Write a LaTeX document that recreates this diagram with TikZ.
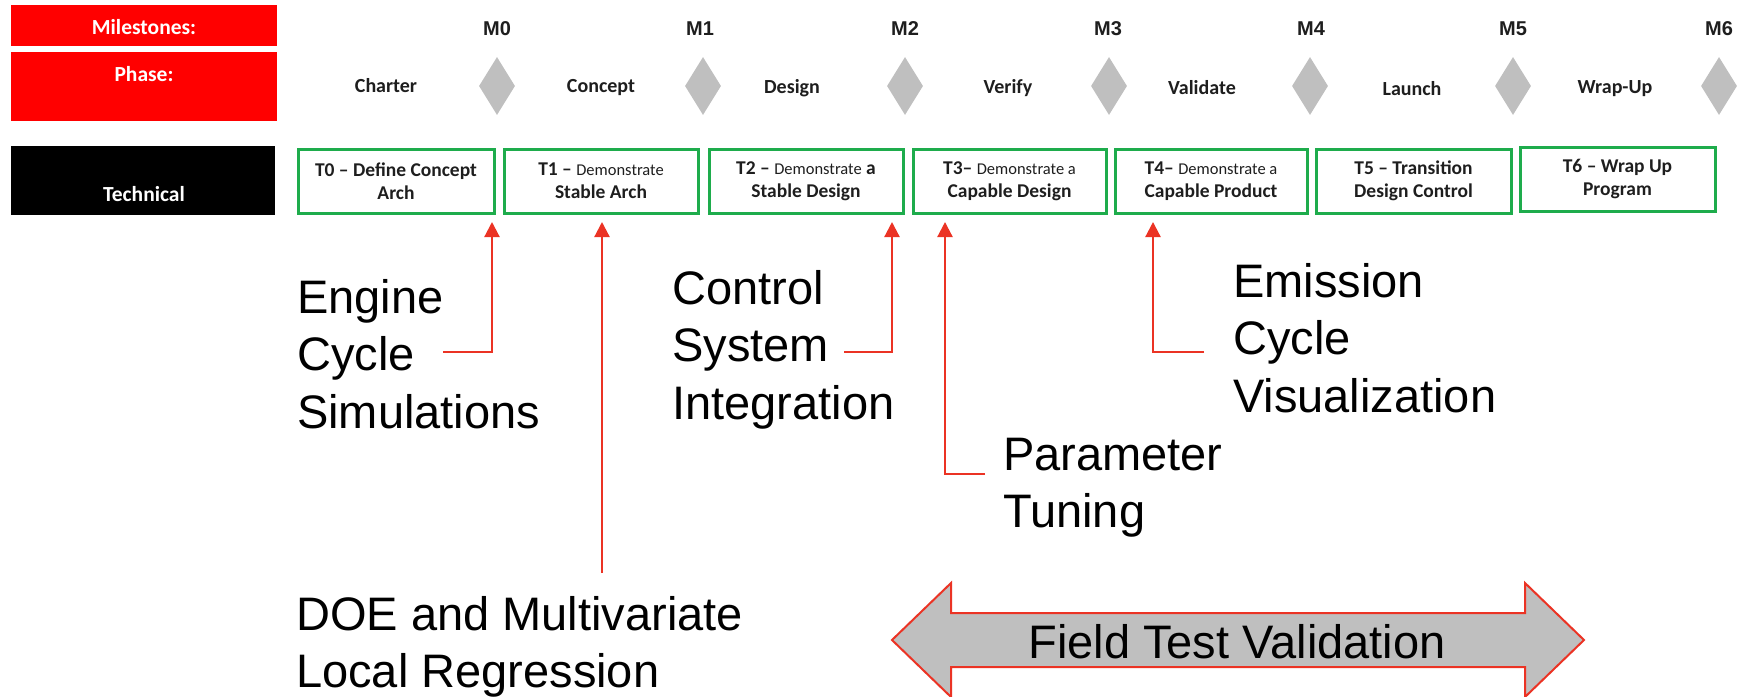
\documentclass[tikz,border=0pt]{standalone}
\usepackage{fontspec}
\setmainfont{Liberation Sans}
\newfontfamily\calib{Carlito}
\usetikzlibrary{shapes.geometric,arrows.meta,calc}
\definecolor{pred}{RGB}{255,0,0}
\definecolor{lred}{RGB}{235,51,36}
\definecolor{tgreen}{RGB}{30,172,76}
\definecolor{dgray}{RGB}{191,191,191}
\definecolor{txt}{RGB}{30,30,30}
\newcommand\demo[1]{{\mdseries\fontsize{16.5}{23}\selectfont #1}}
\begin{document}
\begin{tikzpicture}[x=1pt,y=-1pt,
  hdrbox/.style={inner sep=0, outer sep=0, minimum width=266},
  hdrtext/.style={inner sep=0, font=\calib\bfseries\fontsize{21.5}{24}\selectfont, text=white},
  ms/.style={inner sep=0, font=\bfseries\fontsize{20}{22}\selectfont, text=txt},
  phs/.style={inner sep=0, font=\calib\bfseries\fontsize{20}{22}\selectfont, text=txt},
  msd/.style={diamond, fill=dgray, minimum width=36, minimum height=58, inner sep=0},
  tbox/.style={draw=tgreen, line width=3, minimum height=64, inner sep=0, outer sep=0,
    align=center, font=\calib\bfseries\fontsize{19.5}{23}\selectfont, text=txt},
  lbl/.style={anchor=base west, inner sep=0, font=\fontsize{47}{57.5}\selectfont},
  conn/.style={draw=lred, line width=2.2, -{Triangle[length=15pt,width=15pt]}}
]
\useasboundingbox (0,0) rectangle (1737,696);

% header boxes
\node[hdrbox, fill=pred, minimum height=41] (msbox) at (144,25.5) {};
\node[hdrtext] (mstext) at (144,27) {Milestones:};
\node[hdrbox, fill=pred, minimum height=69] (phbox) at (144,86.5) {};
\node[hdrtext] (phtext) at (144,74) {Phase:};
\node[hdrbox, fill=black, minimum height=69, minimum width=264] (tcbox) at (143,180.5) {};
\node[hdrtext] (tctext) at (144,194) {Technical};

% milestones
\foreach \x/\n in {497/0,700/1,905/2,1108/3,1311/4,1513/5,1719/6}{
  \node[ms] (m\n) at (\x,29) {M\n};
}
\foreach \x/\n in {497/0,703/1,905/2,1109/3,1310/4,1513/5,1719/6}{
  \node[msd] (dm\n) at (\x,86) {};
}

% phases
\node[phs] (charter) at (386,86) {Charter};
\node[phs] (concept) at (601,88) {Concept};
\node[phs] (design) at (792,88) {Design};
\node[phs] (verify) at (1008,88) {Verify};
\node[phs] (validate) at (1202,88) {Validate};
\node[phs] (launch) at (1412,89) {Launch};
\node[phs] (wrapup) at (1615,89) {Wrap-Up};

% technical boxes
\node[tbox, minimum width=196] (t0) at (396,181) {T0 – Define Concept\\Arch};
\node[tbox, minimum width=194] (t1) at (601,181) {T1 – \demo{Demonstrate}\\Stable Arch};
\node[tbox, minimum width=194] (t2) at (806,181) {T2 – \demo{Demonstrate} a\\Stable Design};
\node[tbox, minimum width=193] (t3) at (1009.5,181) {T3– \demo{Demonstrate a}\\Capable Design};
\node[tbox, minimum width=192] (t4) at (1211,181) {T4– \demo{Demonstrate a}\\Capable Product};
\node[tbox, minimum width=195] (t5) at (1413.5,181) {T5 – Transition\\Design Control};
\node[tbox, minimum width=195] (t6) at (1617.5,179) {T6 – Wrap Up\\Program};

% labels
\node[lbl] (engine) at (297,313) {\vtop{\hbox{Engine}\hbox{Cycle}\hbox{Simulations}}};
\node[lbl] (control) at (672,304) {\vtop{\hbox{Control}\hbox{System}\hbox{Integration}}};
\node[lbl] (emission) at (1233,297) {\vtop{\hbox{Emission}\hbox{Cycle}\hbox{Visualization}}};
\node[lbl] (param) at (1003,470) {\vtop{\hbox{Parameter}\hbox{Tuning}}};
\node[lbl] (doe) at (296,630) {\vtop{\hbox{DOE and Multivariate}\hbox{Local Regression}}};

% connectors
\coordinate (sEng) at (443,352);
\coordinate (sDoe) at (602,573);
\coordinate (sCtl) at (844,352);
\coordinate (sPar) at (985,474);
\coordinate (sEmi) at (1204,352);
\draw[conn] (sEng) -| ($(t0.south east)+(-2,9)$);
\draw[conn] (sDoe) -- ($(sDoe |- t1.south)+(0,9)$);
\draw[conn] (sCtl) -| ($(t2.south east)+(-11,9)$);
\draw[conn] (sPar) -| ($(t3.south west)+(32,9)$);
\draw[conn] (sEmi) -| ($(t4.south west)+(38,9)$);

% field test arrow
\filldraw[fill=dgray, draw=lred, line width=2]
  (892,640) -- (951,583) -- (951,613) -- (1525,613) -- (1525,583) -- (1584,640)
  -- (1525,697) -- (1525,667) -- (951,667) -- (951,697) -- cycle;
\node[anchor=base, inner sep=0, font=\fontsize{47}{57}\selectfont] (field) at (1237,658) {Field Test Validation};
\end{tikzpicture}
\end{document}
